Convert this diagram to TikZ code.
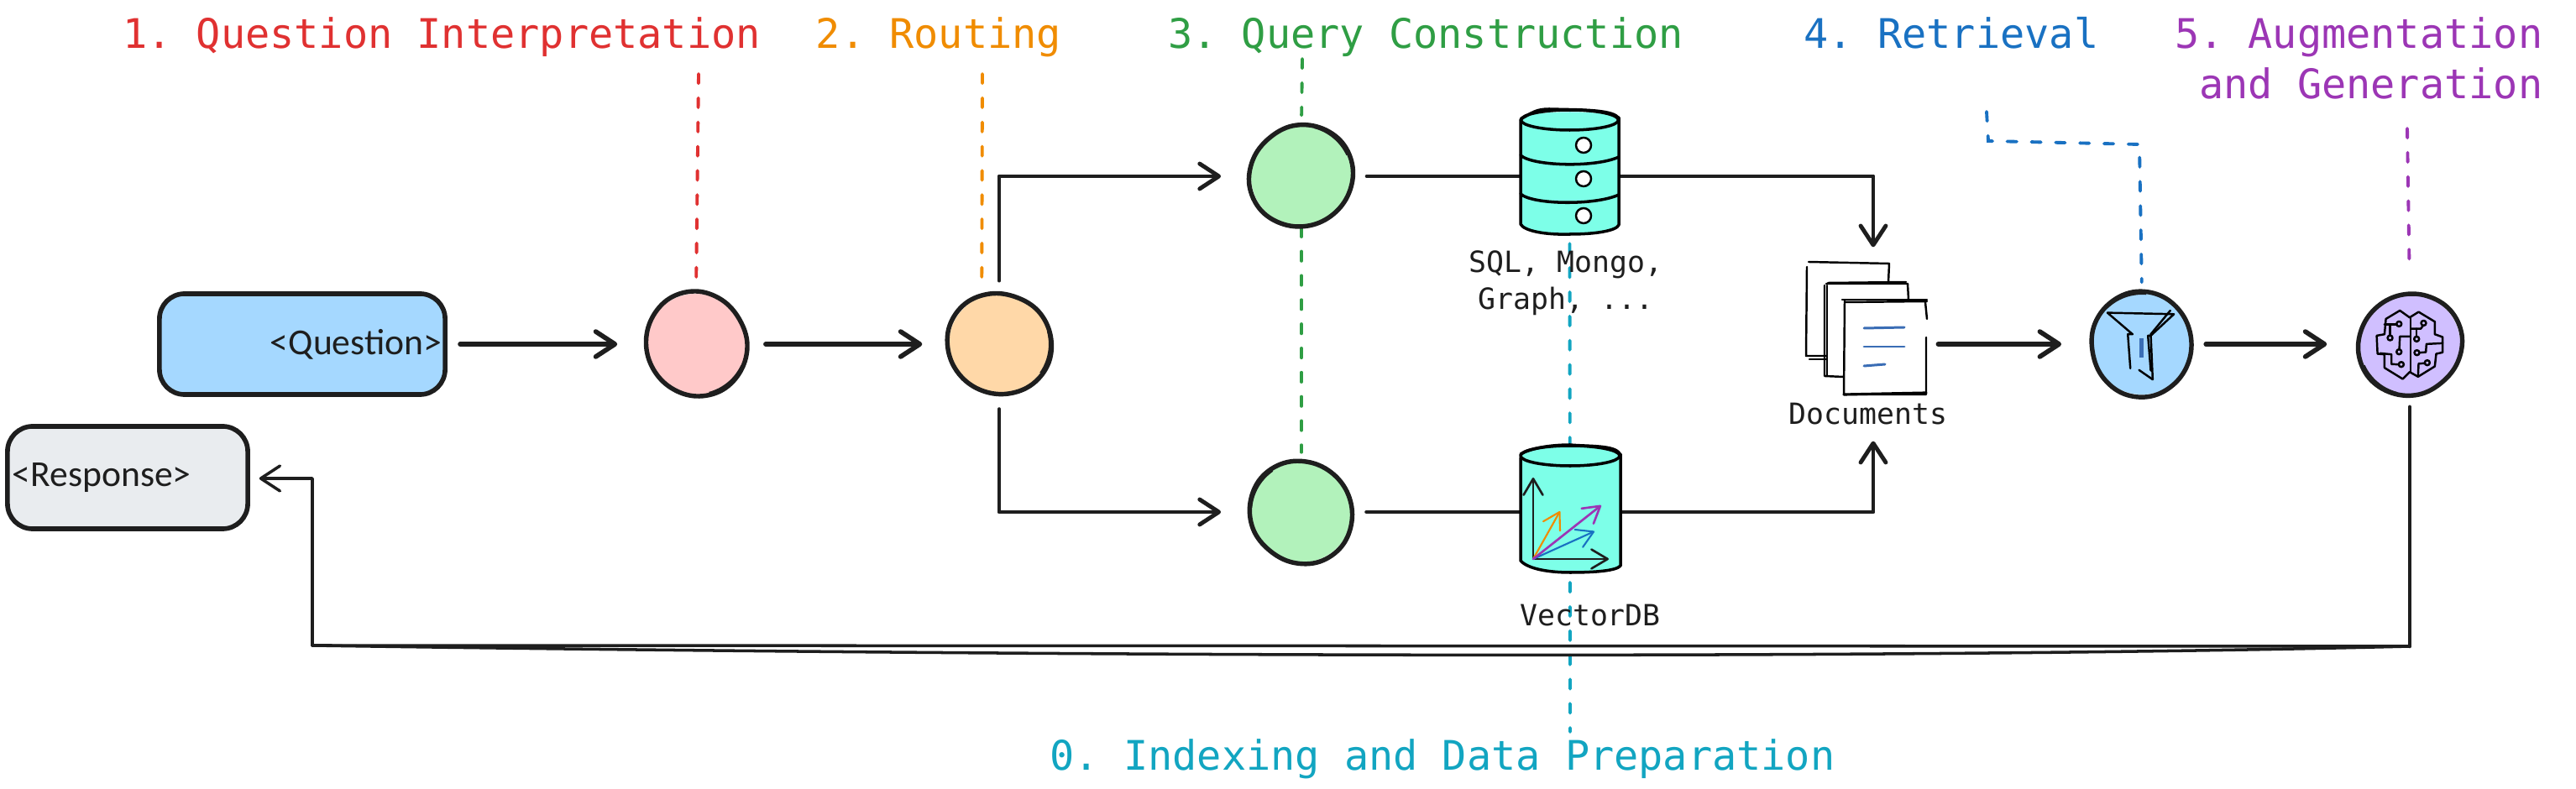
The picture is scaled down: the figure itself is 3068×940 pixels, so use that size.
\documentclass[tikz,border=0pt]{standalone}
\usepackage{fontspec}
\setmonofont{DejaVu Sans Mono}
\newfontfamily\handfont{Carlito}
\usetikzlibrary{arrows.meta}
\definecolor{ink}{HTML}{1E1E1E}
\definecolor{cred}{HTML}{E03131}
\definecolor{corange}{HTML}{F08C00}
\definecolor{cgreen}{HTML}{2F9E44}
\definecolor{cblue}{HTML}{1971C2}
\definecolor{cpurple}{HTML}{9C36B5}
\definecolor{ccyan}{HTML}{12A5C1}
\definecolor{fred}{HTML}{FFC9C9}
\definecolor{forange}{HTML}{FFD8A8}
\definecolor{fgreen}{HTML}{B2F2BB}
\definecolor{fblue}{HTML}{A5D8FF}
\definecolor{fpurple}{HTML}{D0BFFF}
\definecolor{fgrey}{HTML}{E9ECEF}
\definecolor{faqua}{HTML}{7DFFE8}
\definecolor{lineblue}{HTML}{3A6DB5}
\tikzset{
  x=0.01cm,y=-0.01cm,
  blob/.style={circle,minimum size=1.2cm,inner sep=0pt,draw=none},
  sk/.style={draw=ink,line width=1.55pt,line join=round,line cap=round},
  skthin/.style={draw=black,line width=1pt,line join=round,line cap=round},
  skfine/.style={draw=black,line width=0.7pt,line join=round,line cap=round},
  arr/.style={draw=ink,line width=1.6pt,line join=round,line cap=round,-{Straight Barb[length=6.5pt,width=8.5pt,round]}},
  conn/.style={draw=ink,line width=1.1pt,line join=round,line cap=round},
  dashline/.style={line width=1.1pt,line cap=round,dash pattern=on 3.2pt off 5pt},
  title/.style={font=\ttfamily\fontsize{13.8}{17}\selectfont,inner sep=0pt,anchor=base},
  lab/.style={font=\ttfamily\fontsize{9.9}{12.6}\selectfont,text=ink,inner sep=0pt,align=center},
  box/.style={rectangle,rounded corners=8.5pt,draw=ink,line width=1.6pt,inner ysep=0pt,font=\handfont\fontsize{12.4}{15}\selectfont,text=ink},
  ghost/.style={rectangle,draw=none,inner sep=0pt},
  hole/.style={draw=black,fill=white,line width=0.7pt},
}
\newcommand{\wob}[2]{%
  \begin{scope}[shift={(#1.center)},rotate=#2]
    \draw[sk] plot[smooth cycle,tension=.63] coordinates {(0:61) (30:62) (60:63) (90:62) (120:60) (150:59) (180:59.5) (210:61) (240:63) (270:63) (300:61) (330:59.5)};
    \draw[draw=ink,line width=.6pt] (25:60) arc (25:75:60);
  \end{scope}}
\begin{document}
\begin{tikzpicture}
\useasboundingbox[fill=white] (0,0) rectangle (3068,940);

% stages
\node[box,fill=fblue,minimum width=3.4cm,minimum height=1.2cm,inner xsep=0.04cm,text width=3.32cm,align=right] (q) at (360,410) {<Question>};
\node[box,fill=fgrey,minimum width=2.86cm,minimum height=1.22cm,inner xsep=0.06cm,text width=2.74cm,align=left] (resp) at (152,569) {\raisebox{-0.6pt}{<Response>}};
\node[blob,fill=fred] (red) at (829,410) {};
\node[blob,fill=forange] (ora) at (1190,410) {};
\node[blob,fill=fgreen] (gt) at (1550,210) {};
\node[blob,fill=fgreen] (gb) at (1550,610) {};
\node[blob,fill=fblue] (blu) at (2551,410) {};
\node[blob,fill=fpurple] (pur) at (2870,410) {};
\node[ghost,minimum width=1.17cm,minimum height=1.49cm] (db1) at (1869.5,204.5) {};
\node[ghost,minimum width=1.19cm,minimum height=1.52cm] (db2) at (1870.5,606) {};
\node[ghost,minimum width=1.28cm,minimum height=1.58cm] (docs) at (2231,391) {};

% dashed stage markers
\coordinate (d1) at (832,88);
\coordinate (d2) at (1170,88);
\coordinate (d3) at (1551,70);
\coordinate (d0) at (1870,872);
\coordinate (d4) at (2366,133);
\coordinate (d4a) at (2368,168);
\coordinate (d4b) at (2548,172);
\coordinate (d5) at (2867,153);
\draw[dashline,cred,shorten >=2.8pt] (d1) -- (red.north);
\draw[dashline,corange,shorten >=3pt] (d2) -- (ora.110);
\draw[dashline,cgreen,shorten >=3.4pt] (d3) -- (gt.north);
\draw[dashline,cgreen,shorten >=3pt] (gt.south) -- (gb.north);
\draw[dashline,ccyan,shorten <=3pt] (db1.south) -- (d0);
\draw[dashline,cblue,shorten >=3.7pt] (d4) -- (d4a) -- (d4b) -- (blu.north);
\draw[dashline,cpurple,shorten >=7.4pt] (d5) -- (pur.north);

% wobbly outlines
\wob{red}{0}
\wob{ora}{40}
\wob{gt}{100}
\wob{gb}{200}
\wob{blu}{160}
\wob{pur}{280}

% connectors
\draw[arr,shorten <=4.3pt,shorten >=9.4pt] (q.east) -- (red.west);
\draw[arr,shorten <=6.3pt,shorten >=8.8pt] (red.east) -- (ora.west);
\draw[arr,line width=1.4pt,shorten <=4.3pt,shorten >=10pt] (ora.north) |- (gt.west);
\draw[arr,line width=1.4pt,shorten <=4.8pt,shorten >=10pt] (ora.south) |- (gb.west);
\draw[conn,shorten <=4.8pt] (gt.east) -- (gt.east -| db1.west);
\draw[conn,shorten <=4.8pt,line width=1.4pt] (gb.east) -- (gb.east -| db2.west);
\draw[arr,line width=1.4pt,shorten >=4.8pt] (gt.east -| db1.east) -| (docs.north);
\draw[arr,line width=1.4pt,shorten >=15.6pt] (gb.east -| db2.east) -| (docs.south);
\draw[arr,shorten <=3.6pt,shorten >=10pt] (docs.east |- blu.west) -- (blu.west);
\draw[arr,shorten <=4.4pt,shorten >=10.8pt] (blu.east) -- (pur.west);
\coordinate (fbR) at (2870,770);
\coordinate (fbL) at (372,769);
\coordinate (fbU) at (372,570);
\draw[conn,line width=1.3pt,shorten <=4pt] (pur.south) -- (fbR);
\draw[conn,line width=1pt] (fbR) -- (fbL);
\draw[conn,line width=1pt] (fbR) .. controls (2300,784) and (1400,784) .. (fbL);
\draw[arr,line width=1pt,shorten >=3.1pt] (fbL) -- (fbU) -- (resp.east |- fbU);

% SQL store
\fill[faqua] (1811,143) -- (1811,267) .. controls (1815,275) and (1840,280) .. (1870,279) .. controls (1900,279) and (1925,275) .. (1928,268) -- (1928,143) .. controls (1925,130) and (1815,130) .. cycle;
\draw[skthin] (1811,143) -- (1811,267) .. controls (1815,275) and (1840,280) .. (1870,279) .. controls (1900,279) and (1925,275) .. (1928,268) -- (1928,140);
\draw[skthin] (1869.5,143) ellipse [x radius=58,y radius=12];
\draw[skthin] (1811,142) .. controls (1825,134) and (1830,130) .. (1845,130) .. controls (1880,131) and (1925,130) .. (1928,142);
\draw[skthin] (1811,185) .. controls (1825,198) and (1900,200) .. (1928,187);
\draw[skthin] (1811,231) .. controls (1825,244) and (1900,245) .. (1928,232);
\foreach \hy in {173,213,257} \draw[hole] (1886,\hy) circle [radius=0.09cm];

% Vector store
\fill[faqua] (1811,545) -- (1811,668) .. controls (1820,678) and (1845,682) .. (1870,682) .. controls (1900,682) and (1925,680) .. (1930,674) -- (1930,542) .. controls (1925,528) and (1815,525) .. cycle;
\draw[skthin] (1811,545) -- (1811,668) .. controls (1820,678) and (1845,682) .. (1870,682) .. controls (1900,682) and (1925,680) .. (1930,674) -- (1930,541);
\draw[skthin] (1870,543) ellipse [x radius=59,y radius=12];
\draw[skthin] (1811,541) .. controls (1825,533) and (1850,530) .. (1870,530) .. controls (1890,532) and (1925,530) .. (1929,541);
\coordinate (vo) at (1826,666);
\coordinate (vu) at (1826,569);
\coordinate (vr) at (1916,666);
\coordinate (vor) at (1858,609);
\coordinate (vpu) at (1907,602);
\coordinate (vbl) at (1899,633);
\tikzset{vec/.style={line width=.75pt,line cap=round,line join=round,-{Straight Barb[length=5.5pt,width=6.5pt,round]}}}
\draw[vec,draw=ink] (vo) -- (vu);
\draw[vec,draw=ink] (vo) -- (vr);
\draw[vec,draw=corange,line width=.6pt] (vo) -- (vor);
\draw[vec,draw=cblue,line width=.6pt] (vo) -- (vbl);
\draw[vec,draw=cpurple] (vo) -- (vpu);

% Documents
\fill[white] (2152,312) rectangle (2249,425);
\draw[skfine] (2154,312) -- (2250,314) -- (2249,337);
\draw[skfine] (2152,318) -- (2151,424) -- (2175,424);
\draw[skfine] (2155,428) -- (2175,428);
\fill[white] (2175,337) rectangle (2273,449);
\draw[skfine] (2177,337) -- (2270,336);
\draw[skfine] (2175,338) -- (2272,338) -- (2273,357);
\draw[skfine] (2173,340) -- (2173,448) -- (2196,449);
\draw[skfine] (2176,340) -- (2176,448);
\fill[white] (2197,357) rectangle (2295,470);
\draw[skfine] (2194,357) -- (2295,357);
\draw[skfine] (2197,360) -- (2295,359);
\draw[skfine] (2293,360) -- (2295,380);
\draw[skfine] (2197,358) -- (2196,470) -- (2294,470) -- (2294,402);
\draw[skfine,line width=.9pt] (2196,470) -- (2294,468);
\draw[draw=lineblue,line width=.85pt,line cap=round] (2220,391) -- (2268,390);
\draw[draw=lineblue,line width=.85pt,line cap=round] (2220,413) -- (2268,413);
\draw[draw=lineblue,line width=.85pt,line cap=round] (2220,436) -- (2245,434);

% Funnel icon
\begin{scope}[shift={(2470,335)},x=0.003333cm,y=-0.003333cm]
\draw[skfine] (120,113) -- (358,118) -- (275,195) -- (266,195);
\draw[skfine] (120,113) -- (210,190) -- (193,190) -- (202,312);
\draw[skfine] (345,105) -- (275,190) -- (282,352) -- (233,318);
\draw[skfine] (265,195) -- (275,320);
\draw[draw=lineblue,line width=1.2pt] (242,205) -- (242,272);
\end{scope}

% Brain icon
\begin{scope}[shift={(2790,335)},x=0.003333cm,y=-0.003333cm]
\draw[skfine] (240,130) -- (205,105) -- (155,135) -- (150,190) -- (122,195) -- (125,260) -- (150,262) -- (150,310) -- (215,350) -- (240,325) -- (270,342) -- (330,305) -- (335,260) -- (358,255) -- (358,200) -- (330,190) -- (330,145) -- (272,110) -- cycle;
\draw[skfine] (243,130) -- (243,325);
\draw[skfine] (150,155) -- (193,155);
\draw[skfine] (170,155) -- (170,194);
\draw[skfine] (240,198) -- (205,198) -- (203,244);
\draw[skfine] (135,258) -- (175,262) -- (175,297) -- (200,298);
\draw[skfine] (245,170) -- (280,170) -- (287,160);
\draw[skfine] (265,170) -- (265,198);
\draw[skfine] (358,222) -- (300,225) -- (298,254) -- (275,256);
\draw[skfine] (270,340) -- (272,295) -- (294,294);
\foreach \cx/\cy in {202/153,170/203,202/253,210/298,290/150,265/207,266/256,303/292}
  \draw[skfine] (\cx,\cy) circle [radius=0.03cm];
\end{scope}

% labels
\node[lab] (sql) at (1865,337) {SQL, Mongo,\\Graph, ...};
\node[lab] (vdb) at (1894,733) {VectorDB};
\node[lab] (dl) at (2225,493) {Documents};
\node[title,text=cred] (t1) at (526,58) {1. Question Interpretation};
\node[title,text=corange] (t2) at (1118,58) {2. Routing};
\node[title,text=cgreen] (t3) at (1698,58) {3. Query Construction};
\node[title,text=cblue] (t4) at (2324,58) {4. Retrieval};
\node[title,text=cpurple,anchor=base east] (t5a) at (3029,58) {5. Augmentation};
\node[title,text=cpurple,anchor=base east] (t5b) at (3029,118) {and Generation};
\node[title,text=ccyan] (t0) at (1718,917) {0. Indexing and Data Preparation};
\end{tikzpicture}
\end{document}
